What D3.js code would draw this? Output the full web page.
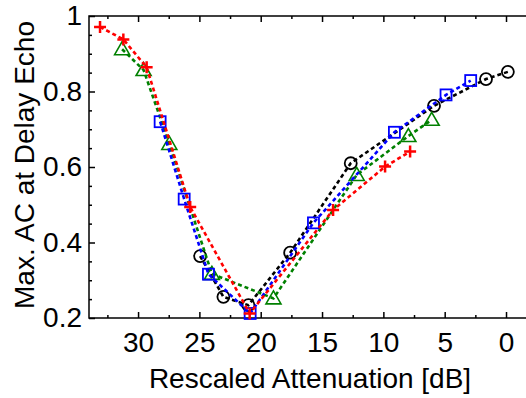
<!DOCTYPE html>
<html>
<head>
<meta charset="utf-8">
<script src="https://cdn.jsdelivr.net/npm/d3@7"></script>
<style>
  body { margin: 0; background: #fff; }
  svg { display: block; font-family: "Liberation Sans", Arial, sans-serif; }
</style>
</head>
<body>
<div id="chart"></div>
<script>
const ctx = {
    w: 526,
    h: 398,
    left: 89,
    right: 533,
    top: 16,
    bottom: 318,
    fontSize: 28
};

// attenuation [dB], max AC value
const blackCircles = [
    [24.94, 0.364], [23.04, 0.256], [21.0, 0.234], [17.6, 0.373],
    [12.66, 0.610], [5.87, 0.762], [1.63, 0.833], [-0.15, 0.852]
];
const blueSquares = [
    [28.2, 0.720], [26.24, 0.515], [24.26, 0.316], [20.86, 0.212],
    [15.7, 0.452], [9.1, 0.692], [4.89, 0.791], [2.88, 0.829]
];
const greenTriangles = [
    [31.3, 0.912], [29.55, 0.857], [27.45, 0.661], [23.98, 0.317],
    [18.96, 0.252], [12.17, 0.579], [7.96, 0.682], [6.06, 0.725]
];
const redPluses = [
    [33.1, 0.971], [31.2, 0.938], [29.3, 0.864], [25.75, 0.494],
    [20.9, 0.212], [14.1, 0.486], [9.86, 0.601], [7.82, 0.641]
];

const xMajor = [30, 25, 20, 15, 10, 5, 0];
const xMinor = [32.5, 27.5, 22.5, 17.5, 12.5, 7.5, 2.5];
const yMajor = [0.2, 0.4, 0.6, 0.8, 1];
const yMinor = [0.25, 0.3, 0.35, 0.45, 0.5, 0.55, 0.65, 0.7, 0.75, 0.85, 0.9, 0.95];

const xTitle = "Rescaled Attenuation [dB]";
const yTitle = "Max. AC at Delay Echo";

function createViz() {
    const svg = d3.select("#chart").append("svg")
        .attr("width", ctx.w)
        .attr("height", ctx.h);

    const x = d3.scaleLinear().domain([34, -2.2]).range([ctx.left, ctx.right]);
    const y = d3.scaleLinear().domain([0.2, 1]).range([ctx.bottom, ctx.top]);

    drawAxes(svg, x, y);

    const series = [
        { data: blackCircles, color: "#000000", marker: "circle" },
        { data: greenTriangles, color: "#008000", marker: "triangle" },
        { data: blueSquares, color: "#0000ff", marker: "square" },
        { data: redPluses, color: "#ff0000", marker: "plus" }
    ];

    const line = d3.line().x(d => x(d[0])).y(d => y(d[1]));

    series.forEach(s => {
        svg.append("path")
            .datum(s.data)
            .attr("fill", "none")
            .attr("stroke", s.color)
            .attr("stroke-width", 2.6)
            .attr("stroke-dasharray", "4,3")
            .attr("d", line);

        const g = svg.append("g");
        s.data.forEach(d => {
            const cx = x(d[0]), cy = y(d[1]);
            if (s.marker === "circle") {
                g.append("circle").attr("cx", cx).attr("cy", cy).attr("r", 6)
                    .attr("fill", "none").attr("stroke", s.color).attr("stroke-width", 1.8);
            } else if (s.marker === "square") {
                g.append("rect").attr("x", cx - 5.5).attr("y", cy - 5.5)
                    .attr("width", 11).attr("height", 11)
                    .attr("fill", "none").attr("stroke", s.color).attr("stroke-width", 1.8);
            } else if (s.marker === "triangle") {
                g.append("path")
                    .attr("d", `M${cx},${cy - 7.5}L${cx + 7.5},${cy + 5.5}L${cx - 7.5},${cy + 5.5}Z`)
                    .attr("fill", "none").attr("stroke", s.color).attr("stroke-width", 1.6);
            } else {
                g.append("path")
                    .attr("d", `M${cx - 6},${cy}H${cx + 6}M${cx},${cy - 6}V${cy + 6}`)
                    .attr("stroke", s.color).attr("stroke-width", 2.5);
            }
        });
    });
}

function drawAxes(svg, x, y) {
    const h = ctx.bottom - ctx.top;

    // bottom axis, ticks pointing inward
    svg.append("g")
        .attr("transform", `translate(0,${ctx.bottom})`)
        .call(d3.axisBottom(x).tickValues(xMajor).tickSize(-6).tickPadding(14).tickFormat(d3.format("d")));
    svg.append("g")
        .attr("transform", `translate(0,${ctx.bottom})`)
        .call(d3.axisBottom(x).tickValues(xMinor).tickSize(-3).tickFormat(""));

    // top ticks
    svg.append("g")
        .attr("transform", `translate(0,${ctx.top})`)
        .call(d3.axisTop(x).tickValues(xMajor).tickSize(-6).tickFormat(""));
    svg.append("g")
        .attr("transform", `translate(0,${ctx.top})`)
        .call(d3.axisTop(x).tickValues(xMinor).tickSize(-3).tickFormat(""));

    // left axis
    svg.append("g")
        .attr("transform", `translate(${ctx.left},0)`)
        .call(d3.axisLeft(y).tickValues(yMajor).tickSize(-6).tickPadding(7).tickFormat(d => d === 1 ? "1" : d3.format(".1f")(d)));
    svg.append("g")
        .attr("transform", `translate(${ctx.left},0)`)
        .call(d3.axisLeft(y).tickValues(yMinor).tickSize(-3).tickFormat(""));

    // right ticks
    svg.append("g")
        .attr("transform", `translate(${ctx.right},0)`)
        .call(d3.axisRight(y).tickValues(yMajor).tickSize(-6).tickFormat(""));

    svg.selectAll(".domain").remove();
    svg.selectAll(".tick line").attr("stroke", "#000").attr("stroke-width", 1.5);
    svg.selectAll(".tick text")
        .attr("font-size", ctx.fontSize)
        .attr("font-family", "Liberation Sans, Arial, sans-serif")
        .attr("fill", "#000");

    // frame
    svg.append("rect")
        .attr("x", ctx.left)
        .attr("y", ctx.top)
        .attr("width", ctx.right - ctx.left)
        .attr("height", h)
        .attr("fill", "none")
        .attr("stroke", "#000")
        .attr("stroke-width", 1.5);

    svg.append("text")
        .attr("x", 310)
        .attr("y", 388)
        .attr("text-anchor", "middle")
        .attr("font-size", ctx.fontSize)
        .text(xTitle);

    svg.append("text")
        .attr("transform", `translate(34,165) rotate(-90)`)
        .attr("text-anchor", "middle")
        .attr("font-size", ctx.fontSize)
        .text(yTitle);
}

document.addEventListener("DOMContentLoaded", function () {
    createViz();
});
</script>
</body>
</html>
